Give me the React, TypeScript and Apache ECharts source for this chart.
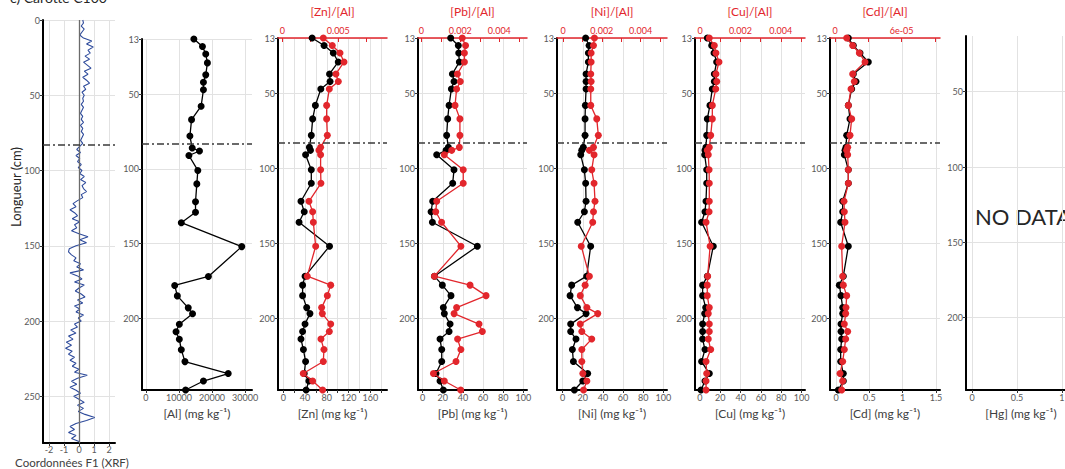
import React, { useEffect, useRef } from "react";
import * as echarts from "echarts";

// ---------------- DATA ----------------
const DEPTH_CM = [13, 18, 23, 29, 37, 42, 47, 58, 67, 78, 86, 88, 91, 101, 110, 122, 129, 136, 152, 172, 178, 185, 193, 197, 204, 209, 214, 221, 229, 237, 242, 248];

const AL = [14500, 17100, 18100, 18600, 18100, 17400, 17400, 16700, 13800, 13300, 14000, 16200, 13000, 15700, 15400, 15000, 15000, 10700, 29000, 18900, 8700, 9500, 12800, 14100, 10100, 9100, 10100, 10700, 11800, 24900, 17400, 12000];

const ZN = [53, 75, 92, 101, 85, 86, 69, 59, 54, 51.5, 48, 50, 41, 51.5, 51.5, 32.5, 38.5, 29, 85, 40, 35.5, 35.5, 43, 49, 40, 35.5, 32.5, 37, 41, 38.5, 47, 42];
const ZN_AL = [0.00366, 0.00446, 0.00515, 0.00551, 0.00479, 0.005, 0.0042, 0.00396, 0.00396, 0.00402, 0.00342, 0.00327, 0.00342, 0.00342, 0.00345, 0.00238, 0.00271, 0.00277, 0.00298, 0.00223, 0.00432, 0.00402, 0.00351, 0.00357, 0.00432, 0.0042, 0.00345, 0.00372, 0.00366, 0.00187, 0.00271, 0.0036];

const PB = [27.8, 35.4, 35.8, 36.4, 29.5, 31.1, 28.5, 26.2, 24.8, 23.8, 25.5, 23.2, 13.9, 31.1, 29.8, 9.9, 8.3, 9.6, 54.3, 11.6, 19.5, 28.1, 20.5, 21.5, 27.2, 26.2, 17.2, 18.9, 18.9, 13.2, 17.2, 20.5];
const PB_AL = [0.0021, 0.00227, 0.00221, 0.00221, 0.00185, 0.002, 0.00181, 0.00173, 0.00198, 0.00198, 0.00195, 0.00156, 0.00118, 0.00215, 0.00215, 0.00079, 0.00074, 0.00104, 0.00203, 0.00067, 0.0025, 0.00332, 0.00181, 0.00168, 0.00296, 0.00313, 0.00186, 0.00203, 0.00178, 0.00062, 0.00118, 0.00202];

const NI = [22.8, 26.2, 25.5, 25.5, 23.2, 23.2, 23.2, 22.5, 22.2, 22.2, 20.5, 18.9, 17.9, 21.5, 22.8, 23.2, 21.5, 14.9, 27.8, 23.8, 8.9, 7.3, 14.6, 23.2, 7.9, 7.9, 13.2, 9.6, 10.6, 24.8, 19.9, 11.6];
const NI_AL = [0.00162, 0.00157, 0.00145, 0.00145, 0.00143, 0.00145, 0.00143, 0.00143, 0.00174, 0.00182, 0.00157, 0.00136, 0.0016, 0.00148, 0.0016, 0.00165, 0.00157, 0.00153, 0.00094, 0.00136, 0.00114, 0.00089, 0.00123, 0.00179, 0.00089, 0.00097, 0.00148, 0.00097, 0.00097, 0.00102, 0.00123, 0.00106];

const CU = [7.2, 11.5, 13.8, 16.4, 14.1, 14.1, 12.1, 9.8, 7.2, 6.6, 5.9, 4.9, 4.6, 6.6, 6.6, 5.9, 4.9, 1.6, 13.1, 7.2, 2.6, 2.6, 5.6, 4.6, 2.6, 2.6, 2.6, 4.9, 1.6, 9.2, 4.9, 1.0];
const CU_AL = [0.00046, 0.00071, 0.00079, 0.00094, 0.00079, 0.00083, 0.00078, 0.00061, 0.00061, 0.00053, 0.00046, 0.00036, 0.00041, 0.00045, 0.00046, 0.00046, 0.00045, 0.0003, 0.0005, 0.00038, 0.00036, 0.00036, 0.00046, 0.00041, 0.00046, 0.00046, 0.00041, 0.00053, 0.0003, 0.00033, 0.0003, 0.0003];

const CD = [0.185, 0.26, 0.36, 0.485, 0.26, 0.3, 0.235, 0.185, 0.21, 0.16, 0.15, 0.135, 0.125, 0.185, 0.185, 0.1, 0.1, 0.07, 0.185, 0.11, 0.05, 0.075, 0.1, 0.1, 0.075, 0.075, 0.085, 0.07, 0.07, 0.11, 0.11, 0.035];
const CD_AL = [1.05e-5, 1.59e-5, 2.19e-5, 2.7e-5, 1.59e-5, 1.74e-5, 1.44e-5, 1.2e-5, 1.5e-5, 1.35e-5, 1.14e-5, 1.05e-5, 1.14e-5, 1.2e-5, 1.2e-5, 0.81e-5, 0.84e-5, 0.9e-5, 0.6e-5, 0.69e-5, 0.75e-5, 1.05e-5, 0.99e-5, 0.96e-5, 0.84e-5, 1.14e-5, 0.96e-5, 0.84e-5, 0.69e-5, 0.45e-5, 0.69e-5, 0.6e-5];

// XRF F1 coordinates, one reading every F1_STEP_CM cm from 0 cm
const F1_STEP_CM = 2;
const F1_XRF = [
  0.25, 0.3, 0.15, 0.35, 0.2, 0.05, 0.3, 0.85, 0.5, 0.95,
  0.6, 0.75, 0.4, 0.7, 0.3, 0.55, 0.8, 0.35, 0.6, 0.25,
  0.5, 0.7, 0.3, 0.45, 0.2, 0.35, 0.25, 0.3, 0.15, 0.3,
  0.2, 0.1, 0.25, 0.15, 0.3, 0.1, 0.25, 0.15, 0.3, 0.2,
  0.1, 0.25, 0.05, -0.15, 0.1, -0.2, 0.05, -0.1, 0.15, -0.05,
  0.2, 0.05, 0.35, 0.1, 0.45, 0.2, 0.3, 0.5, 0.15, 0.25,
  -0.1, -0.4, -0.2, -0.6, -0.3, -0.1, -0.45, 0.05, -0.3, -0.15,
  -0.5, 0.0, 0.6, 0.05, 0.5, -0.2, -0.65, -0.7, -0.5, -0.2,
  -0.35, 0.1, -0.15, 0.3, -0.6, -0.1, 0.2, -0.3, 0.35, 0.0,
  -0.25, 0.15, 0.4, -0.1, 0.25, -0.3, 0.05, -0.2, 0.3, -0.05,
  0.15, -0.3, -0.1, -0.55, -0.2, -0.7, -0.4, -0.85, -0.5, -0.9,
  -0.45, -0.7, -0.3, -0.6, -0.2, -0.45, 0.0, -0.3, 0.55, -0.1,
  -0.5, -0.15, -0.6, -0.2, 0.1, -0.35, 0.0, 0.35, -0.1, 0.3,
  -0.05, 0.4, 1.05, 0.5, -0.2, -0.6, -0.3, -0.7, -0.2, -0.5,
  0.0,
];

const BOUNDARY_DEPTH_CM = 83;

// tick / label values
const F1_Y_TICKS = [0, 50, 100, 150, 200, 250];
const CORE_Y_TICKS = [13, 50, 100, 150, 200];
const HG_Y_TICKS = [50, 100, 150, 200];
const F1_X_TICKS = [-2, -1, 0, 1, 2];
const AL_X_TICKS = [0, 10000, 20000, 30000];
const ZN_X_TICKS = [0, 20, 40, 60, 80, 100, 120, 140, 160, 180];
const ZN_X_LABELS = [0, 40, 80, 120, 160];
const PCT_X_TICKS = [0, 20, 40, 60, 80, 100];
const CD_X_TICKS = [0, 0.5, 1, 1.5];
const HG_X_TICKS = [0, 0.5, 1];
const ZN_TOP_TICKS = [0, 0.0025, 0.005, 0.0075];
const ZN_TOP_LABELS = [0, 0.005];
const RATIO_TOP_TICKS = [0, 0.001, 0.002, 0.003, 0.004, 0.005];
const RATIO_TOP_LABELS = [0, 0.002, 0.004];
const CD_TOP_TICKS = [0, 3e-5, 6e-5, 9e-5];
const CD_TOP_LABELS = [0, 6e-5];

// ---------------- STYLE ----------------
const RED = "#e2262c";
const GRID_COLOR = "#e2e2e2";
const LABEL_COLOR = "#595959";
const FONT = "Lato, 'Open Sans', sans-serif";

function fmt(v: number): string {
  if (v === 0) return "0";
  if (Math.abs(v) < 1e-4) {
    return v.toExponential(0).replace(/e-(\d)$/, "e-0$1");
  }
  return String(v);
}

type Axis = { min: number; max: number; ticks: number[]; labels: number[]; name: string };
type Panel = {
  left: number; top: number; width: number; height: number;
  yMin: number; yMax: number; yTicks: number[];
  bottom: Axis; topAxis?: Axis;
  black?: number[]; red?: number[];
};

function buildOption() {
  const sup = " (mg kg\u207B\u00B9)";
  const panels: Panel[] = [
    { left: 43, top: 20, width: 72, height: 423, yMin: 0, yMax: 281, yTicks: F1_Y_TICKS,
      bottom: { min: -2.4, max: 2.4, ticks: F1_X_TICKS, labels: F1_X_TICKS, name: "" } },
    { left: 142, top: 39, width: 110, height: 351, yMin: 13, yMax: 248, yTicks: CORE_Y_TICKS,
      bottom: { min: -1200, max: 32100, ticks: AL_X_TICKS, labels: AL_X_TICKS, name: "[Al]" + sup }, black: AL },
    { left: 278, top: 38, width: 109, height: 352, yMin: 13, yMax: 248, yTicks: CORE_Y_TICKS,
      bottom: { min: -9.7, max: 190.6, ticks: ZN_X_TICKS, labels: ZN_X_LABELS, name: "[Zn]" + sup },
      topAxis: { min: -0.000384, max: 0.009348, ticks: ZN_TOP_TICKS, labels: ZN_TOP_LABELS, name: "[Zn]/[Al]" },
      black: ZN, red: ZN_AL },
    { left: 418, top: 38, width: 109, height: 352, yMin: 13, yMax: 248, yTicks: CORE_Y_TICKS,
      bottom: { min: -4.7, max: 103.7, ticks: PCT_X_TICKS, labels: PCT_X_TICKS, name: "[Pb]" + sup },
      topAxis: { min: -0.00017, max: 0.00542, ticks: RATIO_TOP_TICKS, labels: RATIO_TOP_LABELS, name: "[Pb]/[Al]" },
      black: PB, red: PB_AL },
    { left: 557, top: 38, width: 110, height: 352, yMin: 13, yMax: 248, yTicks: CORE_Y_TICKS,
      bottom: { min: -5.7, max: 103.7, ticks: PCT_X_TICKS, labels: PCT_X_TICKS, name: "[Ni]" + sup },
      topAxis: { min: -0.00031, max: 0.00536, ticks: RATIO_TOP_TICKS, labels: RATIO_TOP_LABELS, name: "[Ni]/[Al]" },
      black: NI, red: NI_AL },
    { left: 695, top: 38, width: 110, height: 352, yMin: 13, yMax: 248, yTicks: CORE_Y_TICKS,
      bottom: { min: -4.9, max: 103.3, ticks: PCT_X_TICKS, labels: PCT_X_TICKS, name: "[Cu]" + sup },
      topAxis: { min: -0.000248, max: 0.0052, ticks: RATIO_TOP_TICKS, labels: RATIO_TOP_LABELS, name: "[Cu]/[Al]" },
      black: CU, red: CU_AL },
    { left: 830, top: 38, width: 110, height: 352, yMin: 13, yMax: 248, yTicks: CORE_Y_TICKS,
      bottom: { min: -0.09, max: 1.56, ticks: CD_X_TICKS, labels: CD_X_TICKS, name: "[Cd]" + sup },
      topAxis: { min: -4.5e-6, max: 9.45e-5, ticks: CD_TOP_TICKS, labels: CD_TOP_LABELS, name: "[Cd]/[Al]" },
      black: CD, red: CD_AL },
    { left: 966, top: 36, width: 110, height: 354, yMin: 13, yMax: 248, yTicks: HG_Y_TICKS,
      bottom: { min: -0.067, max: 1.156, ticks: HG_X_TICKS, labels: HG_X_TICKS, name: "[Hg]" + sup } },
  ];

  const grid: any[] = [];
  const xAxis: any[] = [];
  const yAxis: any[] = [];
  const series: any[] = [];

  const dashLine = {
    silent: true,
    symbol: ["none", "none"],
    label: { show: false },
    animation: false,
    data: [{ yAxis: BOUNDARY_DEPTH_CM, lineStyle: { type: [7, 3, 2, 3], color: "#3a3a3a", width: 1.5 } }],
  };

  panels.forEach((p, i) => {
    grid.push({ left: p.left, top: p.top, width: p.width, height: p.height, containLabel: false, outerBoundsMode: "none" });
    const yIdx = yAxis.length;
    yAxis.push({
      gridIndex: i, type: "value", inverse: true, min: p.yMin, max: p.yMax,
      axisLine: { show: true, onZero: false, lineStyle: { color: "#000", width: 2 } },
      axisTick: { show: true, customValues: p.yTicks, length: 3, lineStyle: { color: "#333" } },
      axisLabel: { show: true, customValues: p.yTicks, fontSize: 9, color: LABEL_COLOR, margin: 3, formatter: fmt, fontFamily: FONT },
      splitLine: { show: true, lineStyle: { color: GRID_COLOR, width: 1 } },
    });
    const bIdx = xAxis.length;
    xAxis.push({
      gridIndex: i, type: "value", position: "bottom", min: p.bottom.min, max: p.bottom.max,
      axisLine: { show: true, onZero: false, lineStyle: { color: "#000", width: 2 } },
      axisTick: { show: true, customValues: p.bottom.ticks, length: 3, lineStyle: { color: "#333" } },
      axisLabel: { show: true, customValues: p.bottom.labels, fontSize: 9, color: LABEL_COLOR, margin: i === 0 ? 2 : 3, formatter: fmt, fontFamily: FONT },
      splitLine: { show: true, lineStyle: { color: GRID_COLOR, width: 1 } },
      name: p.bottom.name, nameLocation: "middle", nameGap: 17,
      nameTextStyle: { fontSize: 12, color: "#404040", fontFamily: FONT },
    });
    let tIdx = -1;
    if (p.topAxis) {
      tIdx = xAxis.length;
      xAxis.push({
        gridIndex: i, type: "value", position: "top", min: p.topAxis.min, max: p.topAxis.max,
        axisLine: { show: true, onZero: false, lineStyle: { color: RED, width: 1.5 } },
        axisTick: { show: true, inside: true, customValues: p.topAxis.ticks, length: 4, lineStyle: { color: RED } },
        axisLabel: { show: true, customValues: p.topAxis.labels, fontSize: 9, color: RED, margin: 3, formatter: fmt, fontFamily: FONT },
        splitLine: { show: false },
        name: p.topAxis.name, nameLocation: "middle", nameGap: 21,
        nameTextStyle: { fontSize: 12, color: RED, fontFamily: FONT },
      });
    }
    if (i === 0) {
      series.push({
        type: "line", xAxisIndex: bIdx, yAxisIndex: yIdx,
        data: F1_XRF.map((v, k) => [v, k * F1_STEP_CM]),
        showSymbol: false, symbol: "none", clip: true, silent: true,
        lineStyle: { color: "#2d4a9b", width: 1.1 },
        markLine: {
          silent: true, symbol: ["none", "none"], label: { show: false },
          data: [
            { xAxis: 0, lineStyle: { type: "solid", color: "#6b6b6b", width: 1.3 } },
            { yAxis: BOUNDARY_DEPTH_CM, lineStyle: { type: [7, 3, 2, 3], color: "#3a3a3a", width: 1.5 } },
          ],
        },
        z: 3,
      });
    }
    if (p.black) {
      series.push({
        type: "line", xAxisIndex: bIdx, yAxisIndex: yIdx,
        data: p.black.map((v, k) => [v, DEPTH_CM[k]]),
        symbol: "circle", symbolSize: 7, clip: false, silent: true,
        lineStyle: { color: "#000", width: 1.3 }, itemStyle: { color: "#000" },
        markLine: dashLine, z: 3,
      });
    }
    if (p.red && tIdx >= 0) {
      series.push({
        type: "line", xAxisIndex: tIdx, yAxisIndex: yIdx,
        data: p.red.map((v, k) => [v, DEPTH_CM[k]]),
        symbol: "circle", symbolSize: 7, clip: false, silent: true,
        lineStyle: { color: RED, width: 1.3 }, itemStyle: { color: RED },
        z: 4,
      });
    }
    if (!p.black && i !== 0) {
      series.push({ type: "line", xAxisIndex: bIdx, yAxisIndex: yIdx, data: [], silent: true });
    }
  });

  const graphic = [
    { type: "text", left: 10, top: -10, style: { text: "c) Carotte C100", fontSize: 14, fill: "#262626", fontFamily: FONT } },
    { type: "text", x: 16, y: 187, rotation: Math.PI / 2,
      style: { text: "Longueur (cm)", fontSize: 13, fill: "#262626", align: "center", verticalAlign: "middle", fontFamily: FONT } },
    { type: "text", x: 72, y: 462,
      style: { text: "Coordonnées F1 (XRF)", fontSize: 11.5, fill: "#404040", align: "center", verticalAlign: "middle", fontFamily: FONT } },
    { type: "text", x: 975, y: 216,
      style: { text: "NO DATA", fontSize: 22, fill: "#262626", align: "left", verticalAlign: "middle", fontFamily: FONT } },
  ];

  return {
    animation: false,
    backgroundColor: "#ffffff",
    textStyle: { fontFamily: FONT },
    grid, xAxis, yAxis, series, graphic,
  };
}

export default function App() {
  const ref = useRef<HTMLDivElement>(null);
  useEffect(() => {
    if (!ref.current) return;
    const chart = echarts.init(ref.current, undefined, { renderer: "svg" });
    chart.setOption(buildOption() as any);
    return () => chart.dispose();
  }, []);
  return (
    <div
      ref={ref}
      style={{ position: "fixed", left: 0, top: 0, width: 1065, height: 469, background: "#fff" }}
    />
  );
}
